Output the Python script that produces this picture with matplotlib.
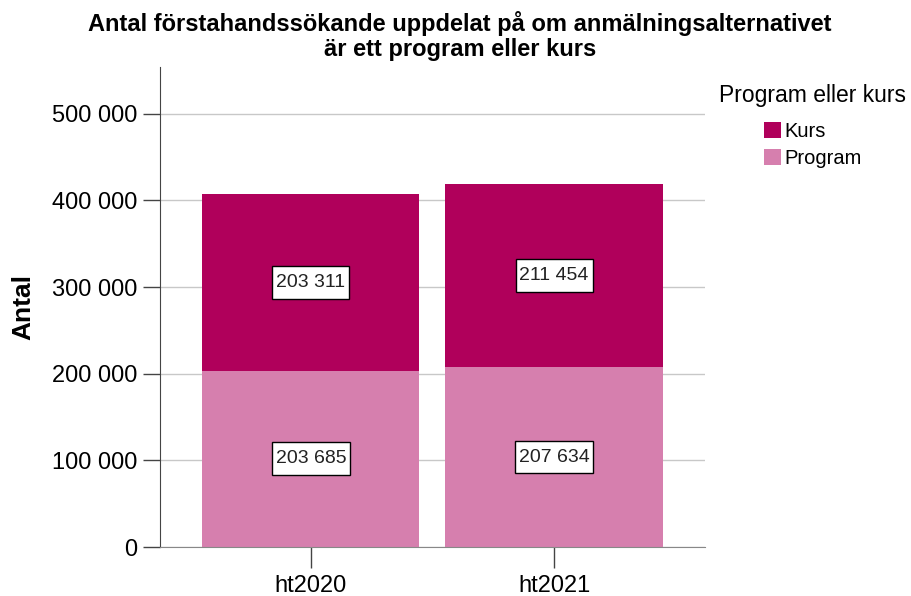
import numpy as np
import matplotlib
matplotlib.use("Agg")
import matplotlib.pyplot as plt
from matplotlib.ticker import FuncFormatter
from matplotlib.path import Path

plt.rcParams['font.family'] = ['Liberation Sans', 'DejaVu Sans']

years = ["ht2020", "ht2021"]
program = [203685, 207634]
kurs = [203311, 211454]

col_kurs = "#B0005B"
col_prog = "#D67FAE"

fig = plt.figure(figsize=(9.12, 5.96), dpi=100)
ax = fig.add_axes([0.1754, 0.0822, 0.5976, 0.8054])

x = np.arange(len(years))
w = 0.893
ax.bar(x, program, w, color=col_prog, label="Program", zorder=2)
ax.bar(x, kurs, w, bottom=program, color=col_kurs, label="Kurs", zorder=2)

def fmt(v):
    return f"{int(v):,}".replace(",", " ")

# label box: a bit more padding above/below than at the sides
def tallbox(x0, y0, width, height, mutation_size):
    px, py = 0.2 * mutation_size, 0.4 * mutation_size
    return Path([(x0 - px, y0 - py), (x0 + width + px, y0 - py),
                 (x0 + width + px, y0 + height + py), (x0 - px, y0 + height + py),
                 (x0 - px, y0 - py)], closed=True)

box = dict(boxstyle=tallbox, fc="white", ec="black", lw=1)
for i in range(len(years)):
    ax.text(x[i], program[i] / 2, fmt(program[i]), ha="center", va="center",
            fontsize=14, color="#222222", bbox=box, zorder=3)
    ax.text(x[i], program[i] + kurs[i] / 2, fmt(kurs[i]), ha="center", va="center",
            fontsize=14, color="#222222", bbox=box, zorder=3)

ax.set_xlim(-0.62, 1.62)
ax.set_ylim(0, 554000)
ax.set_yticks(np.arange(0, 500001, 100000))
ax.yaxis.set_major_formatter(FuncFormatter(lambda v, p: fmt(v)))
ax.set_xticks(x)
ax.set_xticklabels(years)
ax.grid(axis="y", color="#c8c8c8", lw=1, zorder=0)

for s in ["top", "right"]:
    ax.spines[s].set_visible(False)
ax.spines["left"].set_color("#444444")
ax.spines["bottom"].set_color("#888888")
ax.tick_params(axis="y", length=12, width=1, color="#444444", labelsize=17, pad=4)
ax.tick_params(axis="x", length=15, width=1, color="#444444", labelsize=17, pad=5)

ax.set_ylabel("Antal", fontsize=19, fontweight="bold", labelpad=12)

fig.text(0.504, 0.981,
         "Antal förstahandssökande uppdelat på om anmälningsalternativet\när ett program eller kurs",
         ha="center", va="top", fontsize=17, fontweight="bold", linespacing=1.08)

# legend title drawn separately so its gap to the entries can be set
fig.text(0.891, 0.8406, "Program eller kurs", ha="center", va="center", fontsize=16.5)
h, l = ax.get_legend_handles_labels()
fig.legend(h[::-1], l[::-1], loc="upper left", bbox_to_anchor=(0.838, 0.795),
           frameon=False, fontsize=14.5, borderpad=0, borderaxespad=0,
           handlelength=0.85, handleheight=0.85, handletextpad=0.15,
           labelspacing=0.4)

fig.savefig("out.png", dpi=100)
